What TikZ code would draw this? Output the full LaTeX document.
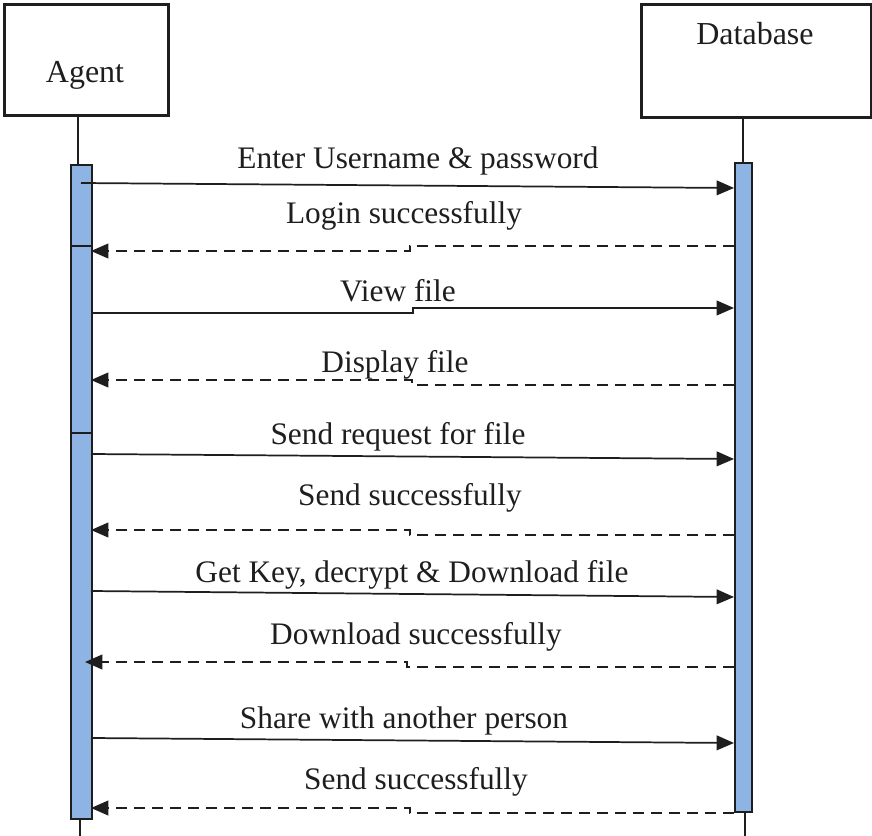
\documentclass[tikz,border=0pt]{standalone}
\usepackage{fontspec}
\setmainfont{Liberation Serif}
\usetikzlibrary{arrows.meta}
\definecolor{barblue}{RGB}{141,180,226}
\definecolor{inkgray}{RGB}{30,30,30}
\tikzset{
  actor/.style={draw=inkgray, line width=2.2pt, fill=white, rectangle, inner sep=0pt},
  actlabel/.style={font=\fontsize{24}{28}\selectfont, text=inkgray},
  msglabel/.style={font=\fontsize{23.5}{28}\selectfont, text=inkgray, anchor=base},
  lifeline/.style={draw=inkgray, line width=1.2pt},
  actbar/.style={draw=inkgray, line width=1.5pt, fill=barblue},
  callmsg/.style={draw=inkgray, line width=1.3pt, -{Triangle[length=13pt,width=11pt]}},
  replymsg/.style={draw=inkgray, line width=1.5pt, dash pattern=on 8pt off 5.5pt, -{Triangle[length=13pt,width=11pt]}}
}
\begin{document}
\begin{tikzpicture}[x=0.75pt, y=-0.75pt]
\useasboundingbox (0,0) rectangle (872,836);

% participants
\node[actor, minimum width=164*0.75pt, minimum height=111*0.75pt, anchor=north west] (agent) at (3,3) {};
\node[actlabel] (agentlbl) at (85,75) {Agent};
\node[actor, minimum width=230*0.75pt, minimum height=113*0.75pt, anchor=north west] (db) at (640,3) {};
\node[actlabel] (dblbl) at (755,34) {Database};

% lifelines
\coordinate (agtop) at (78,164);
\coordinate (dbtop) at (743,162);
\draw[lifeline] (agent.south -| agtop) -- (agtop);
\draw[lifeline] (db.south -| dbtop) -- (dbtop);
\coordinate (agbot) at (80,818);
\coordinate (agend) at (80,836);
\coordinate (dbbot) at (745,811);
\coordinate (dbend) at (745,836);
\draw[lifeline] (agbot) -- (agend);
\draw[lifeline] (dbbot) -- (dbend);

% activation bars
\node[actbar, minimum width=21*0.75pt, minimum height=654*0.75pt, inner sep=0pt, anchor=north west] (agbar) at (70,164) {};
\node[actbar, minimum width=17*0.75pt, minimum height=649*0.75pt, inner sep=0pt, anchor=north west] (dbbar) at (734,162) {};
\draw[inkgray, line width=1.5pt] (agbar.west |- 0,246) -- (agbar.east |- 0,246);
\draw[inkgray, line width=1.5pt] (agbar.west |- 0,433) -- (agbar.east |- 0,433);

% message end points
\coordinate (m1s) at (81,183);  \coordinate (m1e) at (734,188);
\coordinate (m2s) at (734,246); \coordinate (m2e) at (91,251);
\coordinate (m3s) at (91,313);  \coordinate (m3e) at (734,308);
\coordinate (m4s) at (734,385); \coordinate (m4e) at (91,380);
\coordinate (m5s) at (91,454);  \coordinate (m5e) at (734,459);
\coordinate (m6s) at (734,535); \coordinate (m6e) at (91,530);
\coordinate (m7s) at (91,591);  \coordinate (m7e) at (734,597);
\coordinate (m8s) at (734,667); \coordinate (m8e) at (85,662);
\coordinate (m9s) at (91,738);  \coordinate (m9e) at (734,743);
\coordinate (m10s) at (734,813); \coordinate (m10e) at (91,808);

% messages
\draw[callmsg] (m1s) -- (m1e);
\draw[replymsg] (m2s) -- (410,246) -- (410,251) -- (m2e);
\draw[callmsg] (m3s) -- (413,313) -- (413,308) -- (m3e);
\draw[replymsg] (m4s) -- (412,385) -- (412,380) -- (m4e);
\draw[callmsg] (m5s) -- (m5e);
\draw[replymsg] (m6s) -- (410,535) -- (410,530) -- (m6e);
\draw[callmsg] (m7s) -- (m7e);
\draw[replymsg] (m8s) -- (407,667) -- (407,662) -- (m8e);
\draw[callmsg] (m9s) -- (m9e);
\draw[replymsg] (m10s) -- (410,813) -- (410,808) -- (m10e);

% message labels
\node[msglabel] (l1) at (418,168) {Enter Username \& password};
\node[msglabel] (l2) at (404,223) {Login successfully};
\node[msglabel] (l3) at (398,301) {View file};
\node[msglabel] (l4) at (395,372) {Display file};
\node[msglabel] (l5) at (398,444) {Send request for file};
\node[msglabel] (l6) at (410,505) {Send successfully};
\node[msglabel] (l7) at (412,582) {Get Key, decrypt \& Download file};
\node[msglabel] (l8) at (416,644) {Download successfully};
\node[msglabel] (l9) at (404,728) {Share with another person};
\node[msglabel] (l10) at (416,789) {Send successfully};
\end{tikzpicture}
\end{document}
